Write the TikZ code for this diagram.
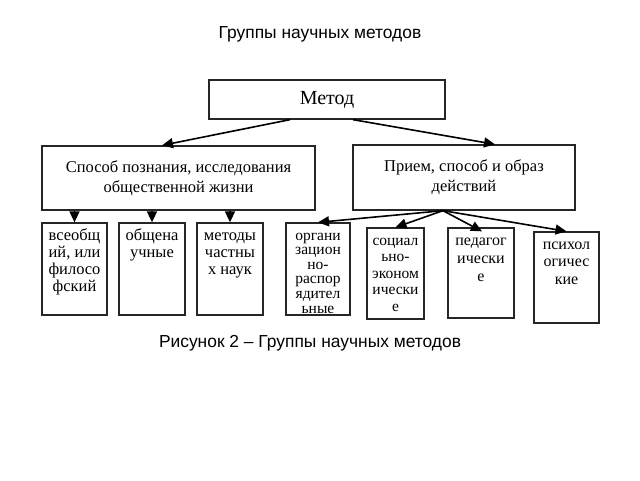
\documentclass[tikz,border=0pt]{standalone}
\usepackage{fontspec}
\setmainfont{Liberation Serif}
\newfontfamily\capfont{Liberation Sans}
\usetikzlibrary{arrows.meta}
\tikzset{
  box/.style={draw=black!85, line width=1.3pt, inner sep=0pt, rectangle},
  arr/.style={-{Triangle[length=11pt,width=10pt]}, line width=1.6pt, black},
  captxt/.style={font=\capfont\fontsize{17.4}{20}\selectfont, inner sep=0pt}
}
\newcommand{\bx}[5]{\parbox[c][#2pt][t]{#1pt}{\centering\fontsize{#5}{#3}\selectfont\rule{0pt}{17pt}#4\par}}
\begin{document}
\begin{tikzpicture}[x=1pt,y=-1pt]
\useasboundingbox[fill=white] (0,0) rectangle (640,480);
\node[captxt] (title) at (320,34) {Группы научных методов};
\node[box, minimum width=236pt, minimum height=39pt, font=\fontsize{20}{24}\selectfont] (metod) at (327,99.5) {Метод};
\node[box, minimum width=273pt, minimum height=64pt, align=center, font=\fontsize{16.5}{20}\selectfont] (left) at (178.5,178) {Способ познания, исследования\\общественной жизни};
\node[box, minimum width=222pt, minimum height=65pt, align=center, font=\fontsize{16.5}{20}\selectfont] (right) at (464,177.5) {Прием, способ и образ\\действий};
\node[box] (b1) at (74.5,269) {\bx{65}{92}{17}{всеобщ\\ий, или\\филосо\\фский}{16.5}};
\node[box] (b2) at (152,269) {\bx{66}{92}{17}{общена\\учные}{16.5}};
\node[box] (b3) at (230,269) {\bx{66}{92}{17}{методы\\частны\\х наук}{16.5}};
\node[box] (b4) at (318,269) {\bx{64}{92}{14.6}{органи\\зацион\\но-\\распор\\ядител\\ьные}{15.5}};
\node[box] (b5) at (395.5,273.5) {\bx{57}{91}{16.6}{социал\\ьно-\\эконом\\ически\\е}{15.5}};
\node[box] (b6) at (481,273) {\bx{66}{90}{18}{педагог\\ически\\е}{16}};
\node[box] (b7) at (566.5,277.5) {\bx{65}{91}{17.5}{психол\\огичес\\кие}{16}};
\node[captxt] (cap) at (310,343) {Рисунок 2 – Группы научных методов};
\draw[arr] ([xshift=-37pt]metod.south) -- ([xshift=-16.5pt]left.north);
\draw[arr] ([xshift=26pt]metod.south) -- ([xshift=31pt]right.north);
\draw[arr] (b1.north |- left.south) -- (b1.north);
\draw[arr] (b2.north |- left.south) -- (b2.north);
\draw[arr] (b3.north |- left.south) -- (b3.north);
\coordinate (hub) at ([xshift=-21pt]right.south);
\draw[arr] (hub) -- (b4.north);
\draw[arr] (hub) -- (b5.north);
\draw[arr] (hub) -- ([xshift=1pt,yshift=-4pt]b6.north);
\draw[arr] (hub) -- (b7.north);
\end{tikzpicture}
\end{document}
